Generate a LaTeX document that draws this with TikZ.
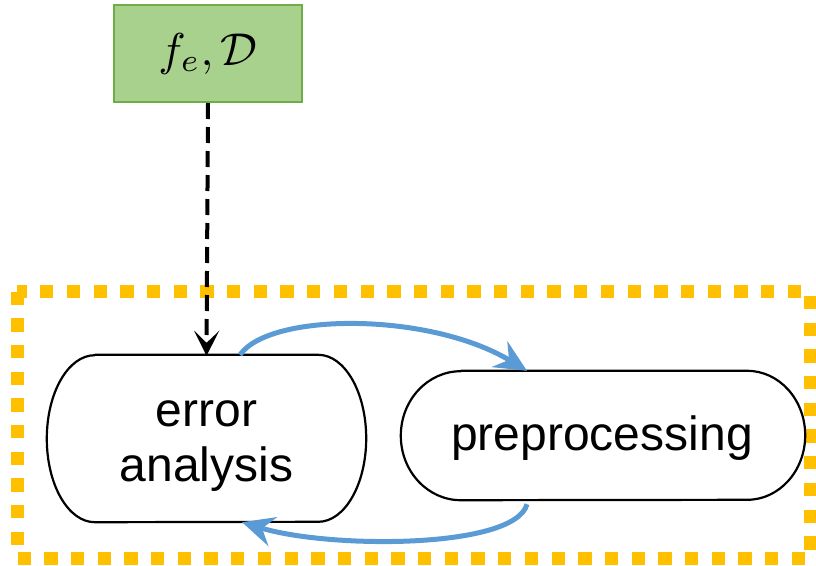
\documentclass[tikz,border=0pt]{standalone}
\usepackage{fontspec}
\usepackage{graphicx}
\setmainfont{Liberation Sans}
\usetikzlibrary{arrows.meta}
\definecolor{gfill}{HTML}{A9D18E}
\definecolor{gline}{HTML}{70AD47}
\definecolor{orng}{HTML}{FFC000}
\definecolor{bluel}{HTML}{5B9BD5}
\tikzset{
  inbox/.style={draw=gline, fill=gfill, line width=2pt, minimum width=188pt, minimum height=97pt, inner sep=0pt},
  procbox/.style={draw=none, inner sep=0pt, align=center, font=\fontsize{48}{55}\selectfont},
  outline/.style={line width=2.2pt, line join=round},
  bluearrow/.style={draw=bluel, line width=5pt, -{Stealth[length=32pt,width=30pt,inset=11pt]}},
  dasharrow/.style={draw=black, line width=4pt, dash pattern=on 16pt off 8pt, -{Stealth[length=25pt,width=25pt,inset=12pt]}},
  framebox/.style={draw=orng, line width=13pt, dash pattern=on 13.3pt off 13.4pt}
}
\begin{document}
\begin{tikzpicture}[x=1pt,y=-1pt]
\useasboundingbox (0,0) rectangle (816,565);
% orange frame
\draw[framebox] (17,291.5) rectangle (810,558);
% input box
\node[inbox] (in) at (208,53.5) {\scalebox{4.6}{$f_e,\mathcal{D}$}};
% error analysis
\node[procbox, minimum width=319pt, minimum height=167pt] (ea) at (206.5,438.5) {};
\node[procbox] (eat) at (206.5,446) {error\\analysis};
\draw[outline] ([xshift=48pt]ea.north west) -- ([xshift=-48pt]ea.north east)
  arc[start angle=90, end angle=-90, x radius=48pt, y radius=83.5pt]
  -- ([xshift=48pt]ea.south west)
  arc[start angle=270, end angle=90, x radius=48pt, y radius=83.5pt] -- cycle;
% preprocessing
\node[procbox, minimum width=404pt, minimum height=129pt] (pp) at (603,435.5) {};
\node[procbox, anchor=base] (ppt) at (602,450) {preprocessing};
\draw[outline] ([xshift=60pt]pp.north west) -- ([xshift=-58pt]pp.north east)
  arc[start angle=90, end angle=-90, x radius=58pt, y radius=64.5pt]
  -- ([xshift=60pt]pp.south west)
  arc[start angle=270, end angle=90, x radius=60pt, y radius=64.5pt] -- cycle;
% connectors
\draw[dasharrow] (in.south) -- ([yshift=-1pt]ea.north);
\draw[bluearrow] ([xshift=33.5pt]ea.north) .. controls (270,312) and (430,312) .. ([xshift=-76pt]pp.north);
\draw[bluearrow] ([xshift=-76pt,yshift=-4pt]pp.south) .. controls (515,549) and (330,549) .. ([xshift=35.5pt]ea.south);
\end{tikzpicture}
\end{document}
